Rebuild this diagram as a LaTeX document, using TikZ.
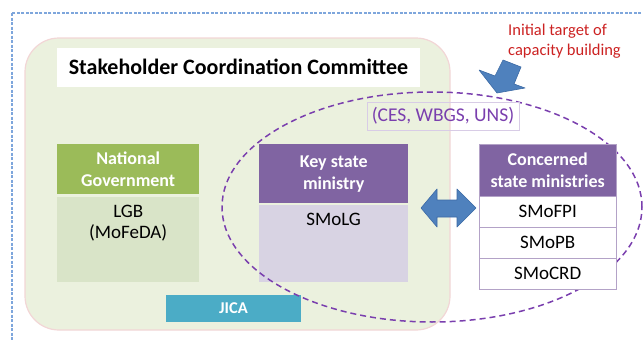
\documentclass[tikz,border=0pt]{standalone}
\usepackage{fontspec}
\setmainfont{Carlito}
\usetikzlibrary{shapes.geometric}

\definecolor{frameblue}{HTML}{7EA6DC}
\definecolor{bggreen}{HTML}{EBF1DE}
\definecolor{bgline}{HTML}{F2D6D6}
\definecolor{ngreen}{HTML}{9BBB59}
\definecolor{lgreen}{HTML}{D9E4C8}
\definecolor{kpurple}{HTML}{8064A2}
\definecolor{lpurple}{HTML}{D8D3E3}
\definecolor{rowline}{HTML}{B3A2C7}
\definecolor{jicablue}{HTML}{4BACC6}
\definecolor{cespurple}{HTML}{7A3FAE}
\definecolor{cesline}{HTML}{D8CCE6}
\definecolor{arrowblue}{HTML}{4F81BD}
\definecolor{arrowedge}{HTML}{3C6AA5}
\definecolor{goalred}{HTML}{CC2222}

\begin{document}
\begin{tikzpicture}[x=1pt, y=-1pt,
  every node/.style={inner sep=0pt},
  head/.style={fill=#1, text=white, align=center, anchor=north west,
    font=\bfseries\fontsize{18}{22}\selectfont},
  body/.style={fill=#1, anchor=north west},
  txt/.style={anchor=north, align=center, font=\fontsize{19}{21}\selectfont},
  row/.style={draw=rowline, fill=white, anchor=north, minimum width=137pt,
    minimum height=30.5pt, font=\fontsize{19}{21}\selectfont},
  blockarrow/.style={fill=arrowblue, draw=arrowedge, line width=0.6pt, line join=round}]
  \clip (0,0) rectangle (643,340);
  \draw[frameblue, line width=1.2pt, dash pattern=on 3pt off 1.5pt] (12,13) rectangle (700,400);
  \draw[bgline, fill=bggreen, line width=1.2pt, rounded corners=34pt] (25,38) rectangle (450,330);
  \node (title) [fill=white, minimum width=363pt, minimum height=39pt,
    font=\bfseries\fontsize{22}{25}\selectfont] at (238.5,67) {Stakeholder Coordination Committee};

  \node (ng) [head=ngreen, minimum width=142pt, minimum height=50pt] at (57,144) {National\\Government};
  \node (lgb) [body=lgreen, minimum width=142pt, minimum height=85pt] at (57,197) {};
  \node [txt] at ([yshift=-8pt]lgb.north) {LGB\\(MoFeDA)};

  \node (key) [head=kpurple, minimum width=149pt, minimum height=59pt] at (259,144) {Key state\\ministry};
  \node (smolg) [body=lpurple, minimum width=149pt, minimum height=77pt] at (259,205) {};
  \node [txt] at ([yshift=-8pt]smolg.north) {SMoLG};

  \node (jica) [fill=jicablue, text=white, minimum width=135pt, minimum height=27pt,
    font=\bfseries\fontsize{16.5}{20}\selectfont] at (233.5,308.5) {JICA};

  \node (target) [ellipse, draw=cespurple, line width=1.5pt, dash pattern=on 6pt off 4pt,
    minimum width=420pt, minimum height=230pt] at (432,207) {};

  \node (cs) [head=kpurple, draw=rowline, minimum width=137pt, minimum height=52pt] at (479,144) {Concerned\\state ministries};
  \node (fpi) [row] at (cs.south) {SMoFPI};
  \node (pb) [row] at (fpi.south) {SMoPB};
  \node (crd) [row] at (pb.south) {SMoCRD};

  \node (ces) [draw=cesline, text=cespurple, minimum width=152pt, minimum height=28pt,
    font=\fontsize{19.5}{22}\selectfont] at (443,116) {(CES, WBGS, UNS)};

  \draw[blockarrow] (421,208) -- (437,189) -- (437,200) -- (457,200) -- (457,189) -- (476,208)
    -- (457,227) -- (457,217) -- (437,217) -- (437,227) -- cycle;

  \node (goal) [anchor=north west, align=left, text=goalred,
    font=\fontsize{16.5}{20}\selectfont] at (508,24) {Initial target of\\capacity building};
  \draw[blockarrow] (479,70) -- (495,76) -- (503,60) -- (521,67) -- (514,84) -- (525,88) -- (497,93) -- cycle;
\end{tikzpicture}
\end{document}
